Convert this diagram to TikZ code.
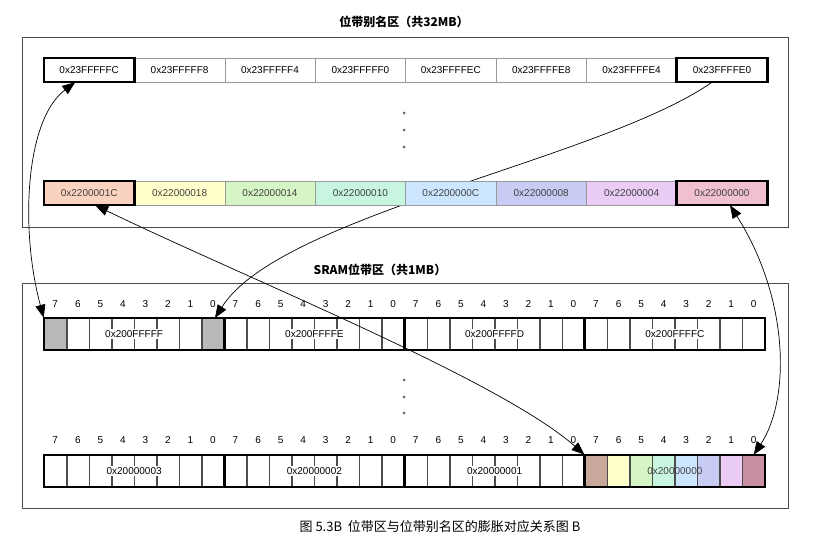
\documentclass[tikz,border=0pt]{standalone}
\usepackage{fontspec}
\setmainfont{Liberation Sans}
\newfontfamily\cjk{Noto Sans CJK SC}
\usetikzlibrary{arrows.meta}
\definecolor{k0}{RGB}{250,211,192}
\definecolor{k1}{RGB}{255,255,204}
\definecolor{k2}{RGB}{214,245,196}
\definecolor{k3}{RGB}{200,245,224}
\definecolor{k4}{RGB}{204,230,255}
\definecolor{k5}{RGB}{200,204,245}
\definecolor{k6}{RGB}{235,204,245}
\definecolor{k7}{RGB}{240,192,208}
\definecolor{m7}{RGB}{200,168,154}
\definecolor{m0}{RGB}{200,144,160}
\begin{document}
\begin{tikzpicture}[x=1pt,y=-1pt,
  frame/.style={draw=black!70,line width=0.7pt},
  cell/.style={draw=black!40,line width=0.5pt,minimum width=90.4pt,minimum height=24pt,inner sep=0pt,font=\fontsize{10}{12}\selectfont},
  hot/.style={draw=black,line width=2.4pt},
  bitc/.style={draw=black!70,line width=0.5pt,minimum width=22.53pt,minimum height=32pt,inner sep=0pt},
  bytebox/.style={draw=black,line width=2.6pt,minimum width=180.25pt,minimum height=32pt,inner sep=0pt},
  lbl/.style={font=\fontsize{10}{12}\selectfont},
  dot/.style={circle,fill=black!60,inner sep=0pt,minimum size=3pt},
  arr/.style={line width=0.7pt,{Triangle[length=13pt,width=10pt]}-{Triangle[length=13pt,width=10pt]}},
  arrh/.style={line width=0.7pt,-{Triangle[length=13pt,width=10pt]}}]
\useasboundingbox (0,0) rectangle (825,551);
\node[font=\cjk\bfseries\fontsize{12}{14}\selectfont] (title1) at (404,22) {位带别名区（共32MB）};
\node[font=\cjk\bfseries\fontsize{12}{14}\selectfont] (title2) at (380,270) {SRAM位带区（共1MB）};
\draw[frame] (22,37) rectangle (788,227);
\draw[frame] (22,283) rectangle (788,508);
% top row
\foreach \i/\t in {0/0x23FFFFFC,1/0x23FFFFF8,2/0x23FFFFF4,3/0x23FFFFF0,4/0x23FFFFEC,5/0x23FFFFE8,6/0x23FFFFE4,7/0x23FFFFE0}
  \node[cell] (t\i) at ({44+90.4*\i+45.2},70) {\t};
\draw[hot] (t0.north west) rectangle (t0.south east);
\draw[hot] (t7.north west) rectangle (t7.south east);
\foreach \y [count=\k] in {113,130,147} \node[dot] (d\k) at (404,\y) {};
% arrow 2 behind coloured row
\draw[arrh] ([xshift=-10]t7.south) .. controls (600,160) and (280,215) .. (215,318);
% coloured row
\foreach \i/\t in {0/0x2200001C,1/0x22000018,2/0x22000014,3/0x22000010,4/0x2200000C,5/0x22000008,6/0x22000004,7/0x22000000}
  \node[cell,fill=k\i,text=black!75] (c\i) at ({44+90.4*\i+45.2},193) {\t};
\draw[hot] (c0.north west) rectangle (c0.south east);
\draw[hot] (c7.north west) rectangle (c7.south east);
% SRAM bytes
\foreach \row/\yy/\ly in {0/334/304,1/471/440}{
  \foreach \i in {0,...,3}{
    \foreach \m in {0,...,7}{
      \pgfmathtruncatemacro{\bb}{7-\m}
      \node[lbl] (l\row-\i-\bb) at ({44+180.25*\i+22.53*\m+11.27},\ly) {\bb};
      \node[bitc] (b\row-\i-\bb) at ({44+180.25*\i+22.53*\m+11.27},\yy) {};
    }
  }
}
\fill[gray!55] (b0-0-7.north west) rectangle (b0-0-7.south east);
\fill[gray!55] (b0-0-0.north west) rectangle (b0-0-0.south east);
\foreach \b/\c in {7/m7,6/k1,5/k2,4/k3,3/k4,2/k5,1/k6,0/m0}
  \fill[fill=\c] (b1-3-\b.north west) rectangle (b1-3-\b.south east);
\foreach \row in {0,1}\foreach \i in {0,...,3}\foreach \b in {0,...,7}
  \draw[black!70,line width=0.5pt] (b\row-\i-\b.north west) rectangle (b\row-\i-\b.south east);
\foreach \i in {0,...,3}
  \node[bytebox] (B0-\i) at ({44+180.25*\i+90.125},334) {};
\foreach \i/\t in {0/0x200FFFFF,1/0x200FFFFE,2/0x200FFFFD,3/0x200FFFFC}
  \node[lbl,fill=white,inner sep=1pt] (n0-\i) at (B0-\i) {\t};
\foreach \i in {0,...,3}
  \node[bytebox] (B1-\i) at ({44+180.25*\i+90.125},471) {};
\foreach \i/\t in {0/0x20000003,1/0x20000002,2/0x20000001}
  \node[lbl,fill=white,inner sep=1pt] (n1-\i) at (B1-\i) {\t};
\node[lbl,text=black!75] (n1-3) at (B1-3) {0x20000000};
\foreach \y [count=\k] in {380,397,413} \node[dot] (e\k) at (404,\y) {};
% arrows
\draw[arr] (b0-0-7.north west) .. controls (20,230) and (25,120) .. ([xshift=-14]t0.south);
\draw[arr] ([xshift=6]c0.south) .. controls (250,280) and (500,380) .. (b1-3-7.north west);
\draw[arr] ([xshift=8]c7.south) .. controls (790,300) and (790,400) .. (b1-3-0.north);
\node[font=\cjk\fontsize{13}{15}\selectfont] (cap) at (440,527) {图 5.3B\ \ 位带区与位带别名区的膨胀对应关系图 B};
\end{tikzpicture}
\end{document}
